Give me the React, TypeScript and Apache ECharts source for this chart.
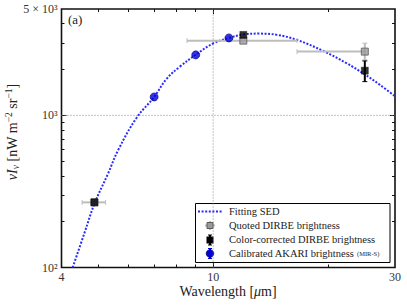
import React, { useEffect, useRef } from "react";
import * as echarts from "echarts";

// ---- axis definitions ----
const xMin = 4;
const xMax = 30;
const yMin = 100;
const yMax = 5000;
const xTickValues = [4, 10, 30];
const xTickLabels = ["4", "10", "30"];
const xMajorTicks = [10];
const xMinorTicks = [5, 6, 7, 8, 9, 20];
const yTickValues = [100, 1000, 5000];
const yTickLabels = ["10²", "10³", "5 × 10³"];
const yMajorTicks = [1000];
const yMinorTicks = [200, 300, 400, 500, 600, 700, 800, 900, 2000, 3000, 4000];

// ---- fitting SED ----
const sedWavelength = [4.28, 4.6, 4.88, 5.3, 5.64, 6.3, 7.0, 7.55, 8.18, 9.0, 10.0, 11.0, 12.0, 13.2, 14.7, 16.6, 19.5, 22.4, 24.9, 27.4, 30];
const sedBrightness = [100, 170, 262, 415, 595, 965, 1320, 1740, 2090, 2500, 2970, 3225, 3400, 3445, 3380, 3130, 2640, 2200, 1870, 1585, 1335];

// ---- AKARI (MIR-S) ----
const akariWavelength = [7, 9, 11];
const akariBrightness = [1321, 2496, 3227];

// ---- Quoted DIRBE ----
const quotedWavelength = [4.88, 12, 25];
const quotedBrightness = [268, 3098, 2624];
const quotedXLow = [4.53, 8.54, 16.6];
const quotedXHigh = [5.22, 16.6, 25];
const quotedYLow = [268, 3098, 2313];
const quotedYHigh = [268, 3098, 2979];

// ---- Color-corrected DIRBE ----
const correctedWavelength = [4.88, 12, 25];
const correctedBrightness = [268, 3378, 1967];
const correctedXLow = [4.88, 12, 25];
const correctedXHigh = [4.88, 12, 25];
const correctedYLow = [268, 3378, 1666];
const correctedYHigh = [268, 3378, 2279];

const L = (v: number) => Math.log10(v);
const FONT = "Liberation Serif";

function labelFor(values: number[], labels: string[], v: number) {
  for (let i = 0; i < values.length; i++) {
    if (Math.abs(L(values[i]) - v) < 1e-6) return labels[i];
  }
  return "";
}

function errorBars(
  xs: number[], ys: number[], xl: number[], xh: number[], yl: number[], yh: number[],
  color: string, width: number, cap: number, z: number
) {
  const data = xs.map((x, i) => [L(x), L(ys[i]), L(xl[i]), L(xh[i]), L(yl[i]), L(yh[i])]);
  return {
    type: "custom",
    z,
    silent: true,
    clip: false,
    encode: { x: 0, y: 1 },
    data,
    renderItem: (_params: any, api: any) => {
      const x = api.value(0);
      const y = api.value(1);
      const c = api.coord([x, y]);
      const x0 = api.coord([api.value(2), y])[0];
      const x1 = api.coord([api.value(3), y])[0];
      const y0 = api.coord([x, api.value(4)])[1];
      const y1 = api.coord([x, api.value(5)])[1];
      const style = { stroke: color, lineWidth: width, fill: "none" };
      const capStyle = { stroke: color, lineWidth: 1, fill: "none" };
      const children: any[] = [];
      if (Math.abs(x1 - x0) > 0.5) {
        children.push({ type: "line", shape: { x1: x0, y1: c[1], x2: x1, y2: c[1] }, style });
        children.push({ type: "line", shape: { x1: x0, y1: c[1] - cap, x2: x0, y2: c[1] + cap }, style: capStyle });
        children.push({ type: "line", shape: { x1: x1, y1: c[1] - cap, x2: x1, y2: c[1] + cap }, style: capStyle });
      }
      if (Math.abs(y1 - y0) > 0.5) {
        children.push({ type: "line", shape: { x1: c[0], y1: y0, x2: c[0], y2: y1 }, style });
        children.push({ type: "line", shape: { x1: c[0] - cap, y1: y0, x2: c[0] + cap, y2: y0 }, style: capStyle });
        children.push({ type: "line", shape: { x1: c[0] - cap, y1: y1, x2: c[0] + cap, y2: y1 }, style: capStyle });
      }
      return { type: "group", children };
    },
  };
}

export default function App() {
  const ref = useRef<HTMLDivElement>(null);
  useEffect(() => {
    if (!ref.current) return;
    const chart = echarts.init(ref.current, undefined, { renderer: "svg" });

    const xBase: any = {
      type: "value",
      min: L(xMin),
      max: L(xMax),
      axisLine: { show: false },
      splitLine: { show: false },
    };
    const yBase: any = {
      type: "value",
      min: L(yMin),
      max: L(yMax),
      axisLine: { show: false },
      splitLine: { show: false },
    };
    const tickStyle = { color: "#111", width: 1 };
    const labelStyle = { fontFamily: FONT, fontSize: 12, color: "#333" };

    const option: any = {
      animation: false,
      backgroundColor: "#fff",
      textStyle: { fontFamily: FONT },
      grid: {
        left: 61.5, right: 12, top: 9, bottom: 37.5,
        show: true, borderColor: "#111", borderWidth: 1.6, backgroundColor: "transparent",
      },
      xAxis: [
        {
          ...xBase, position: "bottom",
          axisTick: { inside: true, length: 5, customValues: xMajorTicks.map(L), lineStyle: tickStyle },
          axisLabel: {
            ...labelStyle, margin: 3,
            customValues: xTickValues.map(L),
            formatter: (v: number) => labelFor(xTickValues, xTickLabels, v),
          },
        },
        {
          ...xBase, position: "bottom",
          axisTick: { inside: true, length: 3, customValues: xMinorTicks.map(L), lineStyle: tickStyle },
          axisLabel: { show: false },
        },
        {
          ...xBase, position: "top",
          axisTick: { inside: true, length: 5, customValues: xMajorTicks.map(L), lineStyle: tickStyle },
          axisLabel: { show: false },
        },
        {
          ...xBase, position: "top",
          axisTick: { inside: true, length: 3, customValues: xMinorTicks.map(L), lineStyle: tickStyle },
          axisLabel: { show: false },
        },
      ],
      yAxis: [
        {
          ...yBase, position: "left",
          axisTick: { inside: true, length: 5, customValues: yMajorTicks.map(L), lineStyle: tickStyle },
          axisLabel: {
            ...labelStyle, margin: 4,
            customValues: yTickValues.map(L),
            formatter: (v: number) => labelFor(yTickValues, yTickLabels, v),
          },
        },
        {
          ...yBase, position: "left",
          axisTick: { inside: true, length: 3, customValues: yMinorTicks.map(L), lineStyle: tickStyle },
          axisLabel: { show: false },
        },
        {
          ...yBase, position: "right",
          axisTick: { inside: true, length: 5, customValues: yMajorTicks.map(L), lineStyle: tickStyle },
          axisLabel: { show: false },
        },
        {
          ...yBase, position: "right",
          axisTick: { inside: true, length: 3, customValues: yMinorTicks.map(L), lineStyle: tickStyle },
          axisLabel: { show: false },
        },
      ],
      series: [
        {
          type: "line", silent: true, symbol: "none", z: 1,
          data: [[L(10), L(yMin)], [L(10), L(yMax)]],
          lineStyle: { color: "#888", width: 1, type: [1, 2] },
        },
        {
          type: "line", silent: true, symbol: "none", z: 1,
          data: [[L(xMin), L(1000)], [L(xMax), L(1000)]],
          lineStyle: { color: "#888", width: 1, type: [1, 2] },
        },
        {
          type: "line", silent: true, symbol: "none", z: 2, smooth: 0.4,
          data: sedWavelength.map((x, i) => [L(x), L(sedBrightness[i])]),
          lineStyle: { color: "#2a2aff", width: 2, type: [2, 1.6] },
        },
        errorBars(quotedWavelength, quotedBrightness, quotedXLow, quotedXHigh, quotedYLow, quotedYHigh, "#bdbdbd", 2, 2.5, 3),
        {
          type: "scatter", silent: true, symbol: "rect", symbolSize: 7, z: 4,
          data: quotedWavelength.map((x, i) => [L(x), L(quotedBrightness[i])]),
          itemStyle: { color: "#9a9a9a", borderColor: "#5a5a5a", borderWidth: 1 },
        },
        errorBars(correctedWavelength, correctedBrightness, correctedXLow, correctedXHigh, correctedYLow, correctedYHigh, "#000", 2, 2.5, 5),
        {
          type: "scatter", silent: true, symbol: "rect", symbolSize: 7, z: 6,
          data: correctedWavelength.map((x, i) => [L(x), L(correctedBrightness[i])]),
          itemStyle: { color: "#000", borderColor: "#000", borderWidth: 0.5 },
        },
        {
          type: "scatter", silent: true, symbol: "circle", symbolSize: 8, z: 7,
          data: akariWavelength.map((x, i) => [L(x), L(akariBrightness[i])]),
          itemStyle: { color: "#0000dd", borderColor: "#00007a", borderWidth: 0.8 },
        },
      ],
      graphic: [
        {
          type: "text", left: 68, top: 13, z: 50,
          style: { text: "(a)", fontFamily: FONT, fontSize: 13, fill: "#222" },
        },
        {
          type: "text", x: 228, y: 291, z: 50,
          style: {
            text: "{r|Wavelength [}{i|μ}{r|m]}",
            align: "center", verticalAlign: "middle",
            rich: {
              r: { fontFamily: FONT, fontSize: 14, fill: "#222" },
              i: { fontFamily: FONT, fontSize: 14, fontStyle: "italic", fill: "#222" },
            },
          },
        },
        {
          type: "text", x: 12, y: 132, rotation: Math.PI / 2, z: 50,
          style: {
            text: "{i|ν}{i|I}{sub|ν}{r| [nW m}{sup|−2}{r| sr}{sup|−1}{r|]}",
            align: "center", verticalAlign: "middle",
            rich: {
              r: { fontFamily: FONT, fontSize: 14, lineHeight: 17, fill: "#222" },
              i: { fontFamily: FONT, fontSize: 14, lineHeight: 17, fontStyle: "italic", fill: "#222" },
              sub: { fontFamily: FONT, fontSize: 9.5, lineHeight: 9, fontStyle: "italic", verticalAlign: "bottom", fill: "#222" },
              sup: { fontFamily: FONT, fontSize: 9.5, lineHeight: 9, verticalAlign: "top", fill: "#222" },
            },
          },
        },
        {
          type: "group", z: 100,
          children: [
            { type: "rect", shape: { x: 195.5, y: 203.5, width: 194.5, height: 59 }, style: { fill: "#fff", stroke: "#000", lineWidth: 1 } },
            { type: "line", shape: { x1: 198, y1: 211.5, x2: 222, y2: 211.5 }, style: { stroke: "#2a2aff", lineWidth: 2, lineDash: [2, 1.6] } },
            // quoted icon
            { type: "line", shape: { x1: 205, y1: 225.5, x2: 215, y2: 225.5 }, style: { stroke: "#bdbdbd", lineWidth: 2 } },
            { type: "line", shape: { x1: 210, y1: 221, x2: 210, y2: 230 }, style: { stroke: "#bdbdbd", lineWidth: 2 } },
            { type: "rect", shape: { x: 207, y: 222.5, width: 6, height: 6 }, style: { fill: "#9a9a9a", stroke: "#5a5a5a", lineWidth: 1 } },
            // corrected icon
            { type: "line", shape: { x1: 210, y1: 235, x2: 210, y2: 245 }, style: { stroke: "#000", lineWidth: 2 } },
            { type: "line", shape: { x1: 208, y1: 235, x2: 212, y2: 235 }, style: { stroke: "#000", lineWidth: 1 } },
            { type: "line", shape: { x1: 208, y1: 245, x2: 212, y2: 245 }, style: { stroke: "#000", lineWidth: 1 } },
            { type: "rect", shape: { x: 206.5, y: 236.5, width: 7, height: 7 }, style: { fill: "#000" } },
            // akari icon
            { type: "line", shape: { x1: 210, y1: 248.5, x2: 210, y2: 258.5 }, style: { stroke: "#0000dd", lineWidth: 2 } },
            { type: "line", shape: { x1: 208, y1: 248.5, x2: 212, y2: 248.5 }, style: { stroke: "#0000dd", lineWidth: 1 } },
            { type: "line", shape: { x1: 208, y1: 258.5, x2: 212, y2: 258.5 }, style: { stroke: "#0000dd", lineWidth: 1 } },
            { type: "circle", shape: { cx: 210, cy: 253.5, r: 3.8 }, style: { fill: "#0000dd", stroke: "#00007a", lineWidth: 0.8 } },
            // texts
            { type: "text", x: 229, y: 211.5, style: { text: "Fitting SED", fontFamily: FONT, fontSize: 10.5, fill: "#222", verticalAlign: "middle" } },
            { type: "text", x: 229, y: 225.5, style: { text: "Quoted DIRBE brightness", fontFamily: FONT, fontSize: 10.5, fill: "#222", verticalAlign: "middle" } },
            { type: "text", x: 229, y: 239.5, style: { text: "Color-corrected DIRBE brightness", fontFamily: FONT, fontSize: 10.5, fill: "#222", verticalAlign: "middle" } },
            {
              type: "text", x: 229, y: 253.5,
              style: {
                text: "{r|Calibrated AKARI brightness }{s|(MIR-S)}",
                verticalAlign: "middle",
                rich: {
                  r: { fontFamily: FONT, fontSize: 10.5, fill: "#222" },
                  s: { fontFamily: FONT, fontSize: 6.5, fill: "#222" },
                },
              },
            },
          ],
        },
      ],
    };
    chart.setOption(option);
    return () => chart.dispose();
  }, []);
  return <div ref={ref} style={{ position: "fixed", left: 0, top: 0, width: 407, height: 305 }} />;
}
